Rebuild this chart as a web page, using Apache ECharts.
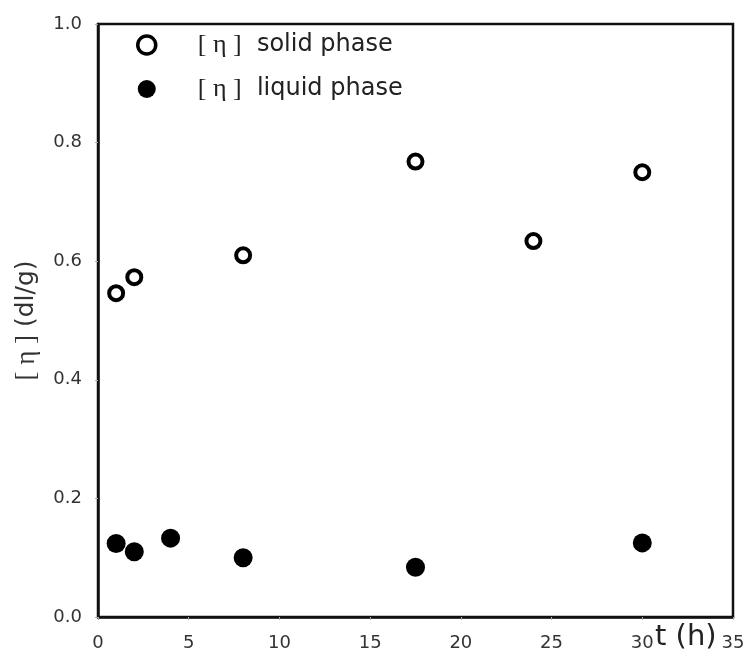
<!DOCTYPE html>
<html>
<head>
<meta charset="utf-8">
<script src="https://cdn.jsdelivr.net/npm/echarts@6/dist/echarts.min.js"></script>
<style>
  html, body { margin: 0; padding: 0; background: #fff; }
  #main { width: 748px; height: 656px; }
</style>
</head>
<body>
<div id="main"></div>
<script>
const solidT = [1, 2, 8, 17.5, 24, 30];
const solidEta = [0.546, 0.573, 0.610, 0.768, 0.634, 0.750];
const liquidT = [1, 2, 4, 8, 17.5, 30];
const liquidEta = [0.124, 0.110, 0.133, 0.100, 0.084, 0.125];
const xTicks = [0, 5, 10, 15, 20, 25, 30, 35];
const yTicks = [0, 0.2, 0.4, 0.6, 0.8, 1.0];

const myChart = echarts.init(document.getElementById('main'));

const labelFont = 'DejaVu Sans';
const pair = (xs, ys) => xs.map((x, i) => [x, ys[i]]);

const option = {
    backgroundColor: '#fff',
    animation: false,
    grid: {
        left: 98, right: 15, top: 24, bottom: 39,
        show: true, borderColor: '#111', borderWidth: 2.5
    },
    legend: {
        orient: 'vertical',
        left: 136, top: 30, padding: 0,
        itemWidth: 18, itemHeight: 18, itemGap: 14,
        textStyle: {
            fontFamily: labelFont, fontSize: 24, color: '#222', lineHeight: 30,
            padding: [0, 0, 0, 37],
            rich: {
                g: { fontFamily: 'Liberation Serif', fontSize: 26, color: '#222', lineHeight: 30 }
            }
        },
        formatter: name => name === 'solid'
            ? '{g|[ η ]}  solid phase'
            : '{g|[ η ]}  liquid phase',
        data: [
            { name: 'solid', icon: 'circle', itemStyle: { color: '#fff', borderColor: '#000', borderWidth: 3.5 } },
            { name: 'liquid', icon: 'circle', itemStyle: { color: '#000' } }
        ]
    },
    xAxis: {
        type: 'value', min: 0, max: 35, interval: 5,
        axisLine: { show: true, lineStyle: { color: '#111', width: 2.5 } },
        axisTick: { show: true, length: 3, lineStyle: { color: '#aaa' } },
        splitLine: { show: false },
        axisLabel: {
            fontFamily: labelFont, fontSize: 18, color: '#333', margin: 17,
            formatter: v => xTicks.includes(v) ? String(v) : ''
        }
    },
    yAxis: {
        type: 'value', min: 0, max: 1, interval: 0.2,
        axisLine: { show: true, lineStyle: { color: '#111', width: 2.5 } },
        axisTick: { show: true, length: 3, lineStyle: { color: '#aaa' } },
        splitLine: { show: false },
        name: '{g|[ η ]} (dl/g)',
        nameLocation: 'middle', nameGap: 58, nameRotate: 90,
        nameTextStyle: {
            fontFamily: labelFont, fontSize: 25, color: '#333',
            rich: { g: { fontFamily: 'Liberation Serif', fontSize: 27, color: '#333' } }
        },
        axisLabel: {
            fontFamily: labelFont, fontSize: 18, color: '#333', margin: 16,
            formatter: v => yTicks.some(t => Math.abs(t - v) < 1e-9) ? v.toFixed(1) : ''
        }
    },
    graphic: [{
        type: 'text', left: 655, top: 623,
        style: { text: 't (h)', font: '29px "DejaVu Sans"', fill: '#222' }
    }],
    series: [
        {
            name: 'solid', type: 'scatter', symbol: 'circle', symbolSize: 14,
            itemStyle: { color: '#fff', borderColor: '#000', borderWidth: 4, opacity: 1 },
            data: pair(solidT, solidEta)
        },
        {
            name: 'liquid', type: 'scatter', symbol: 'circle', symbolSize: 19,
            itemStyle: { color: '#000', opacity: 1 },
            data: pair(liquidT, liquidEta)
        }
    ]
};

myChart.setOption(option);
</script>
</body>
</html>
